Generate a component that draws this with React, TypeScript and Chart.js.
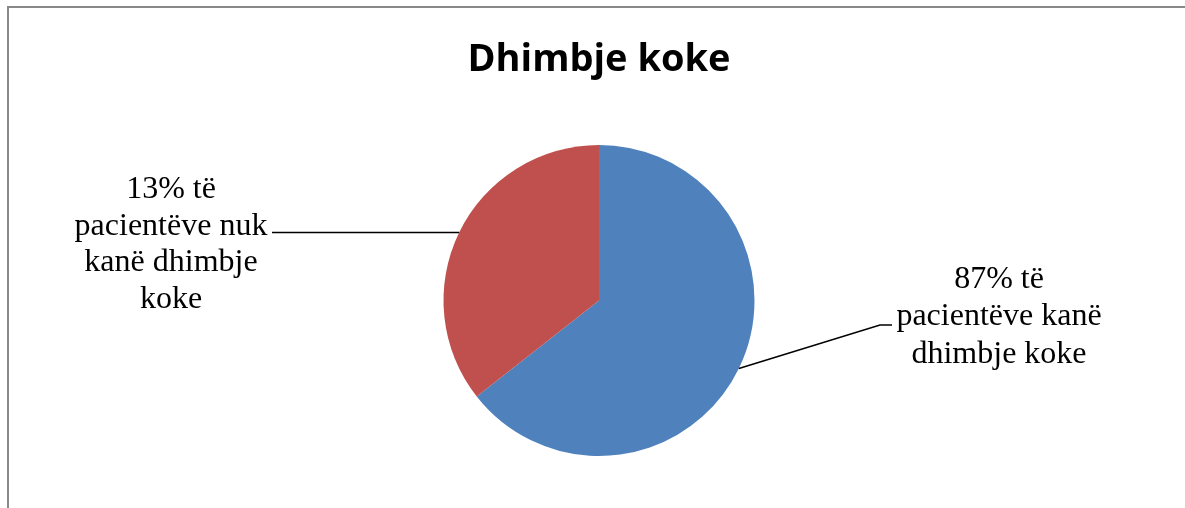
import React, { useEffect, useRef } from "react";
import { Chart, registerables } from "chart.js";

Chart.register(...registerables);

const chartTitle = "Dhimbje koke";
const categories = ["Kanë dhimbje koke", "Nuk kanë dhimbje koke"];
const sliceValues = [64.4, 35.6];
const sliceColors = ["#4F81BD", "#C0504D"];
const labelLines = [
  ["87% të", "pacientëve kanë", "dhimbje koke"],
  ["13% të", "pacientëve nuk", "kanë dhimbje", "koke"],
];

const LABEL_FONT = '32px "Liberation Serif", "Times New Roman", serif';

const framePlugin = {
  id: "frame",
  beforeDraw(chart: any) {
    const ctx = chart.ctx;
    ctx.save();
    ctx.fillStyle = "#ffffff";
    ctx.fillRect(0, 0, chart.width, chart.height);
    ctx.fillStyle = "#898989";
    ctx.fillRect(7, 6, 2, chart.height - 6);
    ctx.fillRect(7, 6, chart.width - 7, 2);
    ctx.restore();
  },
};

const leaderPlugin = {
  id: "leaders",
  afterDraw(chart: any) {
    const ctx = chart.ctx;
    const meta = chart.getDatasetMeta(0);
    ctx.save();
    ctx.strokeStyle = "#000000";
    ctx.lineWidth = 1.5;
    ctx.fillStyle = "#000000";
    ctx.font = LABEL_FONT;
    ctx.textAlign = "center";
    ctx.textBaseline = "middle";
    meta.data.forEach((arc: any, i: number) => {
      const { x, y, startAngle, endAngle, outerRadius } = arc.getProps(
        ["x", "y", "startAngle", "endAngle", "outerRadius"],
        true
      );
      const mid = (startAngle + endAngle) / 2;
      const px = x + Math.cos(mid) * outerRadius;
      const py = y + Math.sin(mid) * outerRadius;
      ctx.beginPath();
      ctx.moveTo(px, py);
      let cx: number, cy: number;
      if (i === 0) {
        const ex = x + 281;
        const ey = y + 24.5;
        ctx.lineTo(ex, ey);
        ctx.lineTo(ex + 12, ey);
        cx = x + 400;
        cy = y - 21;
      } else {
        ctx.lineTo(x - 327, py);
        cx = x - 428;
        cy = y - 111;
      }
      ctx.stroke();
      const lines = labelLines[i];
      const lh = i === 0 ? 37.5 : 36.7;
      lines.forEach((t: string, k: number) => {
        ctx.fillText(t, cx, cy + k * lh);
      });
    });
    ctx.restore();
  },
};

export default function App() {
  const ref = useRef<HTMLCanvasElement | null>(null);
  useEffect(() => {
    document.body.style.margin = "0";
    const canvas = ref.current!;
    const chart = new Chart(canvas, {
      type: "pie",
      data: {
        labels: categories,
        datasets: [
          {
            data: sliceValues,
            backgroundColor: sliceColors,
            borderWidth: 0,
          },
        ],
      },
      options: {
        responsive: false,
        animation: false,
        layout: { padding: { left: 13, right: 0, top: 0, bottom: 52 } },
        plugins: {
          legend: { display: false },
          tooltip: { enabled: false },
          title: {
            display: true,
            text: chartTitle,
            color: "#000000",
            font: { family: '"Open Sans", sans-serif', size: 38, weight: "bold", lineHeight: 1.2 },
            padding: { top: 37, bottom: 62.4 },
          },
        },
      },
      plugins: [framePlugin, leaderPlugin],
    });
    return () => chart.destroy();
  }, []);
  return (
    <div style={{ width: 1185, height: 508 }}>
      <canvas ref={ref} width={1185} height={508} style={{ display: "block" }} />
    </div>
  );
}
